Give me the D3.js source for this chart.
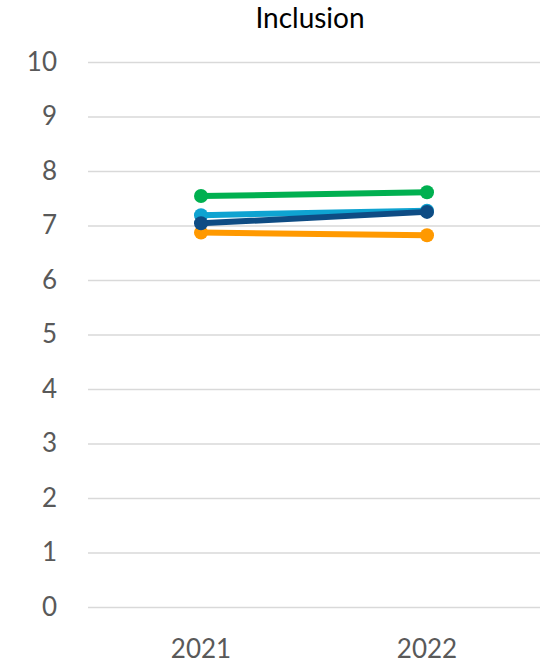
<!DOCTYPE html>
<html>
<head>
<meta charset="utf-8">
<script src="https://cdn.jsdelivr.net/npm/d3@7"></script>
<style>
  html, body { margin: 0; padding: 0; background: #fff; }
  svg { display: block; font-family: Lato, "Open Sans", sans-serif; }
</style>
</head>
<body>
<svg id="chart" width="554" height="663"></svg>
<script>
// Survey score by year, one line per group
const years = ["2021", "2022"];
const seriesNames = ["orange", "green", "lightBlue", "darkBlue"];
const orangeValues = [6.87, 6.82];
const greenValues = [7.54, 7.61];
const lightBlueValues = [7.19, 7.27];
const darkBlueValues = [7.04, 7.25];
const yTicks = [0, 1, 2, 3, 4, 5, 6, 7, 8, 9, 10];
const title = "Inclusion";

const colors = {
  orange: "#FF9900",
  green: "#00B050",
  lightBlue: "#0FA3D1",
  darkBlue: "#0E4C84"
};
const valuesByName = {
  orange: orangeValues,
  green: greenValues,
  lightBlue: lightBlueValues,
  darkBlue: darkBlueValues
};

const svg = d3.select("#chart");
const plot = { left: 88, right: 540, top: 62, bottom: 607 };
const fontSize = 26;

const x = d3.scaleBand().domain(years).range([plot.left, plot.right]);
const y = d3.scaleLinear().domain([0, 10]).range([plot.bottom, plot.top]);

// title
svg.append("text")
  .attr("x", 310).attr("y", 28)
  .attr("text-anchor", "middle")
  .attr("font-size", 28)
  .attr("fill", "#000")
  .text(title);

// gridlines + y labels
const yAxis = d3.axisLeft(y).tickValues(yTicks).tickSize(-(plot.right - plot.left)).tickPadding(31);
const gy = svg.append("g").attr("transform", `translate(${plot.left},0)`).call(yAxis);
gy.select(".domain").remove();
gy.selectAll(".tick line").attr("stroke", "#d9d9d9").attr("stroke-width", 1.3);
gy.selectAll(".tick text")
  .attr("font-size", fontSize)
  .attr("fill", "#595959")
  .attr("font-family", "Lato, 'Open Sans', sans-serif");

// x labels
const xAxis = d3.axisBottom(x).tickSize(0).tickPadding(33);
const gx = svg.append("g").attr("transform", `translate(0,${plot.bottom})`).call(xAxis);
gx.select(".domain").remove();
gx.selectAll(".tick text")
  .attr("font-size", fontSize)
  .attr("fill", "#595959")
  .attr("font-family", "Lato, 'Open Sans', sans-serif");

const cx = d => x(d) + x.bandwidth() / 2;
const line = d3.line().x((d, i) => cx(years[i])).y(d => y(d));

seriesNames.forEach(name => {
  const vals = valuesByName[name];
  const g = svg.append("g");
  g.append("path")
    .attr("d", line(vals))
    .attr("fill", "none")
    .attr("stroke", colors[name])
    .attr("stroke-width", 6)
    .attr("stroke-linecap", "round");
  g.selectAll("circle").data(vals).join("circle")
    .attr("cx", (d, i) => cx(years[i]))
    .attr("cy", d => y(d))
    .attr("r", 7)
    .attr("fill", colors[name]);
});
</script>
</body>
</html>
